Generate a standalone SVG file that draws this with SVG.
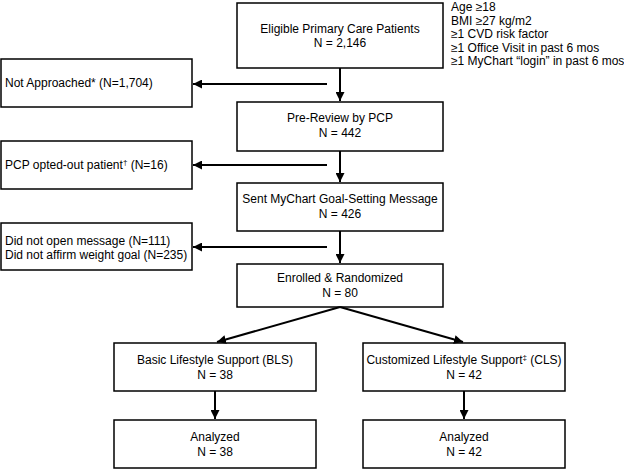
<svg xmlns="http://www.w3.org/2000/svg" width="624" height="470" viewBox="0 0 624 470">
<defs>
<marker id="ah" viewBox="0 0 10 10" refX="10" refY="5" markerWidth="4.5" markerHeight="4.5" orient="auto" markerUnits="strokeWidth">
<path d="M0,0 L10,5 L0,10 z" fill="#000"/>
</marker>
</defs>
<style>
rect{fill:#fff;stroke:#000;stroke-width:1.5}
text{font-family:"Liberation Sans",Arial,sans-serif;font-size:12px;fill:#000}
.c{text-anchor:middle}
.cn line{stroke:#000;stroke-width:2;marker-end:url(#ah)}
.cn line.p{marker-end:none}
.sup{font-size:8px}
</style>
<rect x="0" y="0" width="624" height="470" style="fill:#fff;stroke:none"/>
<g id="eligible">
<rect x="237" y="3" width="206" height="65"/>
<text class="c" x="340" y="33">Eligible Primary Care Patients</text>
<text class="c" x="340" y="47">N = 2,146</text>
</g>
<g id="criteria">
<text x="451" y="11">Age ≥18</text>
<text x="451" y="24.5">BMI ≥27 kg/m2</text>
<text x="451" y="38">≥1 CVD risk factor</text>
<text x="451" y="51.5">≥1 Office Visit in past 6 mos</text>
<text x="451" y="65">≥1 MyChart “login” in past 6 mos</text>
</g>
<g id="notapproached">
<rect x="1" y="59" width="191" height="48"/>
<text x="5" y="87">Not Approached* (N=1,704)</text>
</g>
<g id="prereview">
<rect x="237" y="102" width="206" height="49"/>
<text class="c" x="340" y="122">Pre-Review by PCP</text>
<text class="c" x="340" y="137">N = 442</text>
</g>
<g id="optedout">
<rect x="1" y="141" width="191" height="48"/>
<text x="5" y="169">PCP opted-out patient<tspan class="sup" dy="-4">†</tspan><tspan dy="4"> (N=16)</tspan></text>
</g>
<g id="sent">
<rect x="237" y="183" width="206" height="48"/>
<text class="c" x="340" y="203">Sent MyChart Goal-Setting Message</text>
<text class="c" x="340" y="218">N = 426</text>
</g>
<g id="didnotopen">
<rect x="1" y="223" width="191" height="47"/>
<text x="5" y="245">Did not open message (N=111)</text>
<text x="5" y="259">Did not affirm weight goal (N=235)</text>
</g>
<g id="enrolled">
<rect x="237" y="264" width="206" height="43"/>
<text class="c" x="340" y="282">Enrolled &amp; Randomized</text>
<text class="c" x="340" y="297">N = 80</text>
</g>
<g id="bls">
<rect x="114" y="343" width="202" height="48"/>
<text class="c" x="215" y="364">Basic Lifestyle Support (BLS)</text>
<text class="c" x="215" y="379">N = 38</text>
</g>
<g id="cls">
<rect x="363" y="343" width="202" height="48"/>
<text class="c" x="464" y="364">Customized Lifestyle Support<tspan class="sup" dy="-4">‡</tspan><tspan dy="4"> (CLS)</tspan></text>
<text class="c" x="464" y="379">N = 42</text>
</g>
<g id="analyzed-bls">
<rect x="114" y="420" width="202" height="48"/>
<text class="c" x="215" y="441">Analyzed</text>
<text class="c" x="215" y="456">N = 38</text>
</g>
<g id="analyzed-cls">
<rect x="363" y="420" width="202" height="48"/>
<text class="c" x="464" y="441">Analyzed</text>
<text class="c" x="464" y="456">N = 42</text>
</g>
<g id="connectors" class="cn">
<line x1="340" y1="68" x2="340" y2="101"/>
<line x1="327" y1="84" x2="193" y2="84"/>
<line x1="340" y1="151" x2="340" y2="182"/>
<line x1="327" y1="165" x2="193" y2="165"/>
<line x1="340" y1="231" x2="340" y2="263"/>
<line x1="327" y1="247" x2="193" y2="247"/>
<line x1="340" y1="307" x2="217" y2="342"/>
<line x1="340" y1="307" x2="463" y2="342"/>
<line x1="215" y1="391" x2="215" y2="419"/>
<line x1="464" y1="391" x2="464" y2="419"/>
</g>
</svg>
